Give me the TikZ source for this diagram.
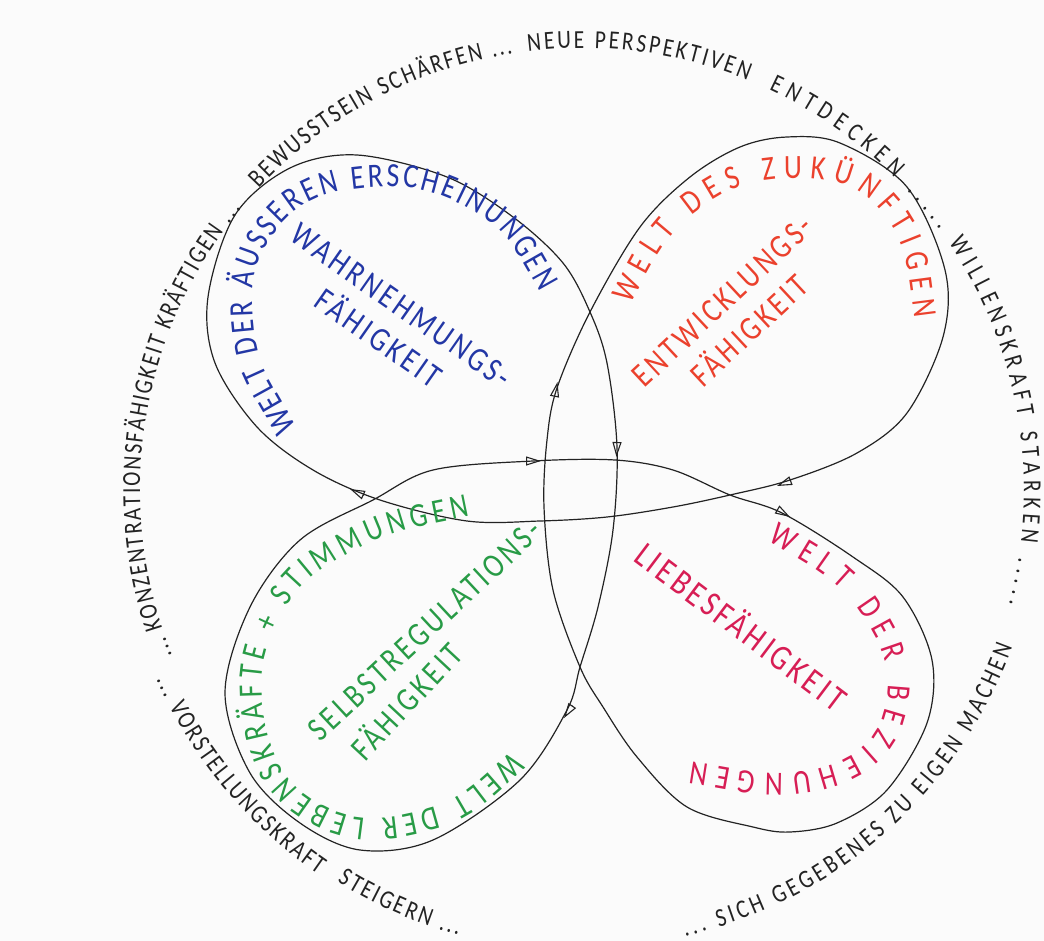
\documentclass[tikz,border=0pt]{standalone}
\usepackage{fontspec}
\usetikzlibrary{decorations.text,arrows.meta}
\newfontfamily\hand{Carlito}[FakeStretch=0.82]
\newfontfamily\handw{Carlito}[FakeStretch=0.82,LetterSpace=10]
\definecolor{bgc}{RGB}{251,251,251}
\definecolor{ink}{RGB}{35,35,35}
\definecolor{cblue}{RGB}{35,55,165}
\definecolor{cred}{RGB}{235,65,45}
\definecolor{cgreen}{RGB}{40,155,70}
\definecolor{cpink}{RGB}{215,30,85}
\begin{document}
\begin{tikzpicture}[x=1pt,y=1pt,
  curve/.style={line width=1.2pt, draw=ink},
  flow/.style={draw=ink, line width=1.1pt, -{Triangle[open,length=15pt,width=9pt]}},
  outer/.style={decorate, decoration={text along path, text align={fit to path}, text={|\hand\fontsize{26}{26}\selectfont\color{ink}|#1}}},
  loopblue/.style={decorate, decoration={text along path, text align={fit to path}, text={|\hand\fontsize{34}{34}\selectfont\color{cblue}|#1}}},
  loopred/.style={decorate, decoration={text along path, text align={fit to path}, text={|\hand\fontsize{34}{34}\selectfont\color{cred}|#1}}},
  loopgreen/.style={decorate, decoration={text along path, text align={fit to path}, text={|\hand\fontsize{34}{34}\selectfont\color{cgreen}|#1}}},
  looppink/.style={decorate, decoration={text along path, text align={fit to path}, text={|\hand\fontsize{34}{34}\selectfont\color{cpink}|#1}}},
  inner/.style={align=center, inner sep=0pt, font=\handw\fontsize{34}{40}\selectfont}
]
\fill[bgc] (0,0) rectangle (1044,-941);
\useasboundingbox (0,0) rectangle (1044,-941);
\coordinate (C) at (582,-490);

% outer ring of text
\path[outer={... KONZENTRATIONSFÄHIGKEIT KRÄFTIGEN ...}] (C) ++(202:442pt) arc[start angle=202, end angle=140.5, radius=442pt];
\path[outer={BEWUSSTSEIN SCHÄRFEN ...}] (C) ++(137:442pt) arc[start angle=137, end angle=99, radius=442pt];
\path[outer={NEUE PERSPEKTIVEN}] (C) ++(97:442pt) arc[start angle=97, end angle=68, radius=442pt];
\path[outer={ENTDECKEN .....}] (C) ++(65:442pt) arc[start angle=65, end angle=36, radius=442pt];
\path[outer={WILLENSKRAFT STARKEN .....}] (C) ++(34:442pt) arc[start angle=34, end angle=-15, radius=442pt];
\path[outer={... VORSTELLUNGSKRAFT}] (C) ++(204:466pt) arc[start angle=204, end angle=235.5, radius=466pt];
\path[outer={STEIGERN ...}] (C) ++(238:462pt) arc[start angle=238, end angle=254.5, radius=462pt];
\path[outer={... SICH GEGEBENES ZU EIGEN MACHEN}] (C) ++(283:458pt) arc[start angle=283, end angle=340, radius=458pt];

% the four-leaf curve
\draw[curve]
  plot[smooth cycle, tension=0.55] coordinates {
  (467,-521) (380,-500) (313,-470) (257,-427) (215,-363) (208,-297) (235,-215)
  (290,-168) (357,-155) (447,-177) (513,-217) (563,-263) (590,-312) (607,-363)
  (617,-447) (613,-530) (598,-607) (580,-667) (567,-710) (520,-780) (433,-840)
  (360,-850) (300,-823) (250,-773) (225,-693) (250,-607) (300,-540) (373,-500)
  (433,-470) (533,-461) (615,-460) (673,-470) (730,-495) (782,-513) (853,-557)
  (903,-597) (932,-660) (927,-723) (887,-790) (837,-823) (790,-832) (753,-827)
  (687,-807) (637,-757) (603,-707) (580,-667) (553,-590) (544,-507) (547,-440)
  (557,-388) (590,-312) (640,-227) (690,-177) (740,-147) (787,-137) (840,-143)
  (907,-187) (945,-270) (943,-337) (907,-413) (857,-453) (790,-480) (730,-495)
  (673,-507) (607,-517) (540,-521)};

% direction arrowheads on the curve
\draw[flow] (364,-495.3) -- (350,-489);
\draw[flow] (617,-442) -- (616.5,-457);
\draw[flow] (572.3,-705.5) -- (564,-718);
\draw[flow] (526,-461) -- (541,-461);
\draw[flow] (777,-509.4) -- (790,-517);
\draw[flow] (554.5,-396.7) -- (557.5,-382);
\draw[flow] (791,-480.6) -- (777,-486);

% loop titles
\path[loopblue={WELT DER ÄUSSEREN ERSCHEINUNGEN}]
  (296,-428) to[out=115,in=-84] (254,-330) to[out=96,in=-127.3] (275,-232)
  to[out=52.7,in=185.7] (362,-188) to[out=5.7,in=149.7] (475,-212) to[out=-30.3,in=120] (540,-292);
\path[loopred={WELT DES ZUKÜNFTIGEN}]
  (630,-304) to[out=60,in=218] (695,-213) to[out=38,in=180.9] (790,-178)
  to[out=0.9,in=131.8] (880,-210) to[out=-48.2,in=98] (915,-318);
\path[loopgreen={WELT DER LEBENSKRÄFTE + STIMMUNGEN}]
  (512,-752) to[out=220,in=14.7] (425,-810) to[out=194.7,in=-29.4] (318,-803)
  to[out=150.6,in=-79.2] (265,-720) to[out=100.8,in=242.1] (282,-615)
  to[out=62.1,in=207.8] (355,-550) to[out=27.8,in=192] (470,-516);
\path[looppink={WELT DER BEZIEHUNGEN}]
  (768,-540) to[out=-32,in=124] (862,-615) to[out=-56,in=74.6] (884,-712)
  to[out=-105.4,in=14.6] (820,-768) to[out=194.6,in=-8] (692,-762);

% capacities
\node[inner, text=cblue, rotate=-35] (wahr) at (390,-322) {WAHRNEHMUNGS-\\FÄHIGKEIT};
\node[inner, text=cred, rotate=43] (entw) at (736,-316) {ENTWICKLUNGS-\\FÄHIGKEIT};
\node[inner, text=cgreen, rotate=43] (selbst) at (425,-630) {SELBSTREGULATIONS-};
\node[inner, text=cgreen, rotate=47] (selbstf) at (405,-700) {FÄHIGKEIT};
\node[inner, text=cpink, rotate=-37, font=\handw\fontsize{36}{40}\selectfont] (liebe) at (742,-625) {LIEBESFÄHIGKEIT};
\end{tikzpicture}
\end{document}
